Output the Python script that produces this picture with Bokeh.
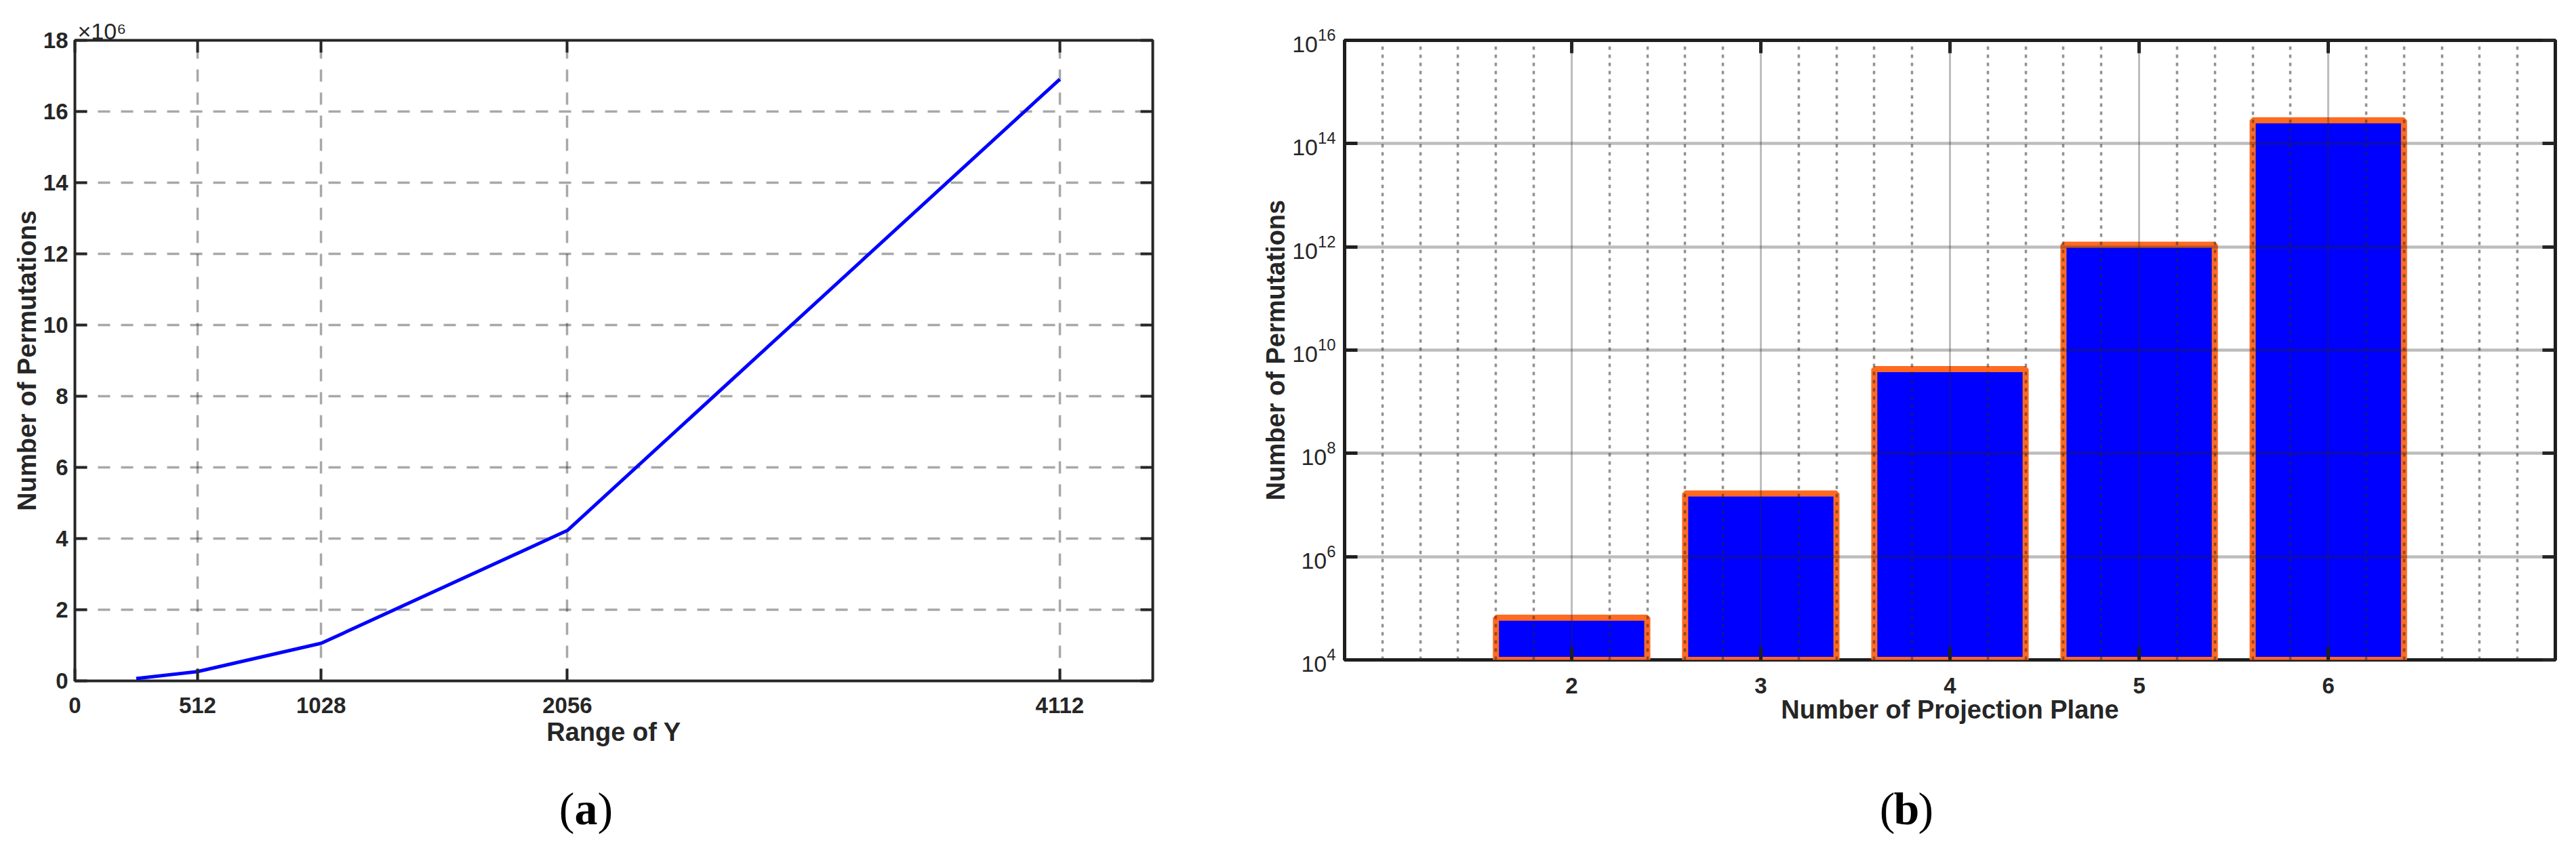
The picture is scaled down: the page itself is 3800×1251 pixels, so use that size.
from bokeh.plotting import figure
from bokeh.layouts import row, column
from bokeh.models import (FixedTicker, LinearAxis, Range1d, Title,
                          CustomJSTickFormatter)
from bokeh.core.properties import value
from bokeh.embed import file_html
from bokeh.resources import INLINE

# ---------------- data: panel (a) ----------------
range_of_y = [256, 512, 1028, 2056, 4112]
permutations_a = [65536, 262144, 1056784, 4227136, 16908544]
x_ticks_a = [0, 512, 1028, 2056, 4112]
y_ticks_a = [0, 2e6, 4e6, 6e6, 8e6, 10e6, 12e6, 14e6, 16e6, 18e6]

# ---------------- data: panel (b) ----------------
planes = [2, 3, 4, 5, 6]
permutations_b = [65536, 16777216, 4294967296, 1099511627776, 281474976710656]
y_ticks_b = [1e4, 1e6, 1e8, 1e10, 1e12, 1e14, 1e16]

# ---------------- captions ----------------
caption_letters = ["a", "b"]

DARK = "#262626"
SANS = "Liberation Sans"
SERIF = "Liberation Serif"
ROW_H = 1125


def tick_only_axis(ticker, tick_in, width):
    # mirrored ticks on the box (labels not drawn)
    return LinearAxis(ticker=ticker,
                      formatter=CustomJSTickFormatter(code="return '.';"),
                      major_label_text_font_size="2px", major_label_text_color=None,
                      major_label_standoff=0,
                      major_tick_in=tick_in, major_tick_out=0, major_tick_line_width=width,
                      major_tick_line_color=DARK, minor_tick_line_color=None,
                      axis_line_color=None)


# ================= panel (a) =================
p1 = figure(frame_width=1590, frame_height=945, x_range=Range1d(0, 4500), y_range=Range1d(0, 18e6),
            output_backend="svg", toolbar_location=None,
            min_border_left=110, min_border_right=82, min_border_top=59,
            min_border_bottom=ROW_H - 59 - 945)
p1.outline_line_color = DARK
p1.outline_line_width = 4
p1.line(range_of_y, permutations_a, line_color="#0000FF", line_width=5)

xa = p1.below[0]
ya = p1.left[0]
xa.ticker = FixedTicker(ticks=x_ticks_a)
ya.ticker = FixedTicker(ticks=y_ticks_a)
ya.formatter = CustomJSTickFormatter(code="return (tick/1e6).toFixed(0);")
for ax in (xa, ya):
    ax.axis_line_color = None
    ax.major_tick_in = 18
    ax.major_tick_out = 0
    ax.major_tick_line_width = 4
    ax.major_tick_line_color = DARK
    ax.minor_tick_line_color = None
    ax.major_label_text_font = SANS
    ax.major_label_text_font_size = "33px"
    ax.major_label_text_font_style = "bold"
    ax.major_label_text_color = DARK
    ax.axis_label_text_font = SANS
    ax.axis_label_text_font_size = "38px"
    ax.axis_label_text_font_style = "bold"
    ax.axis_label_text_color = DARK
xa.axis_label = "Range of Y"
ya.axis_label = "Number of Permutations"
xa.major_label_standoff = 24
xa.axis_label_standoff = 4
ya.major_label_standoff = 10
ya.axis_label_standoff = 0

for g in (p1.xgrid[0], p1.ygrid[0]):
    g.grid_line_color = DARK
    g.grid_line_alpha = 0.4
    g.grid_line_width = 3.5
    g.grid_line_dash = "18 16"
p1.xgrid[0].ticker = FixedTicker(ticks=x_ticks_a)
p1.ygrid[0].ticker = FixedTicker(ticks=y_ticks_a)

p1.add_layout(tick_only_axis(FixedTicker(ticks=x_ticks_a), 18, 4), "above")
p1.add_layout(tick_only_axis(FixedTicker(ticks=y_ticks_a), 18, 4), "right")
p1.add_layout(Title(text="\u00d710\u2076", align="left", offset=4, standoff=-10,
                    text_font=SANS, text_font_size="34px", text_font_style="normal",
                    text_color=DARK), "above")

# ================= panel (b) =================
p2 = figure(frame_width=1786, frame_height=914, x_range=Range1d(0.8, 7.2),
            y_range=Range1d(1e4, 1e16), y_axis_type="log",
            output_backend="svg", toolbar_location=None,
            min_border_left=201, min_border_right=12, min_border_top=53,
            min_border_bottom=ROW_H - 53 - 914)
p2.outline_line_color = "#1e1e1e"
p2.outline_line_width = 5
p2.vbar(x=planes, top=permutations_b, bottom=y_ticks_b[0], width=0.8,
        fill_color="#0000FF", line_color="#FF6A22", line_width=9)

xb = p2.below[0]
yb = p2.left[0]
xb.ticker = FixedTicker(ticks=planes)
yb.ticker = FixedTicker(ticks=y_ticks_b)
for ax in (xb, yb):
    ax.axis_line_color = None
    ax.major_tick_in = 19
    ax.major_tick_out = 0
    ax.major_tick_line_width = 5
    ax.major_tick_line_color = "#1e1e1e"
    ax.minor_tick_line_color = None
    ax.major_label_text_font = SANS
    ax.major_label_text_font_size = "34px"
    ax.major_label_text_color = DARK
    ax.axis_label_text_font = SANS
    ax.axis_label_text_font_size = "38px"
    ax.axis_label_text_font_style = "bold"
    ax.axis_label_text_color = DARK
xb.major_label_text_font_style = "bold"
xb.major_label_text_font_size = "33px"
xb.axis_label = "Number of Projection Plane"
yb.axis_label = "Number of Permutations"
xb.major_label_standoff = 26
xb.axis_label_standoff = 0
yb.major_label_standoff = 13
yb.axis_label_standoff = 0

minor_b = [v for v in (round(1.0 + 0.2 * i, 1) for i in range(31)) if v not in planes]
gx = p2.xgrid[0]
gx.ticker = FixedTicker(ticks=planes, minor_ticks=minor_b)
gx.grid_line_color = DARK
gx.grid_line_alpha = 0.3
gx.grid_line_width = 3
gx.minor_grid_line_color = DARK
gx.minor_grid_line_alpha = 0.5
gx.minor_grid_line_width = 3.5
gx.minor_grid_line_dash = "5 7"
gx.level = "overlay"
gy = p2.ygrid[0]
gy.ticker = FixedTicker(ticks=y_ticks_b)
gy.grid_line_color = DARK
gy.grid_line_alpha = 0.3
gy.grid_line_width = 4.5
gy.level = "overlay"

p2.add_layout(tick_only_axis(FixedTicker(ticks=planes), 19, 5), "above")
p2.add_layout(tick_only_axis(FixedTicker(ticks=y_ticks_b), 19, 5), "right")

# ================= captions strip =================
CAP_W, CAP_H = 3781, 105
cap = figure(width=CAP_W, height=CAP_H, x_range=Range1d(0, CAP_W), y_range=Range1d(0, CAP_H),
             output_backend="svg", toolbar_location=None, min_border=0,
             x_axis_location=None, y_axis_location=None)
cap.outline_line_color = None
cap.xgrid.visible = False
cap.ygrid.visible = False
cap_x = [864, 2812]   # caption centres (screen px within strip)
cap_y = [38, 38]
cap.text(x=[c - 17 for c in cap_x], y=cap_y, text=["("] * 2, text_align="right",
         text_baseline="middle", text_font=value(SERIF), text_font_size="68px", text_color="black")
cap.text(x=cap_x, y=cap_y, text=caption_letters, text_align="center",
         text_baseline="middle", text_font=value(SERIF), text_font_size="68px",
         text_font_style="bold", text_color="black")
cap.text(x=[c + 17 for c in cap_x], y=cap_y, text=[")"] * 2, text_align="left",
         text_baseline="middle", text_font=value(SERIF), text_font_size="68px", text_color="black")

layout = column(row(p1, p2, spacing=0), cap, spacing=0)
open("out.html", "w").write(file_html(layout, INLINE))
